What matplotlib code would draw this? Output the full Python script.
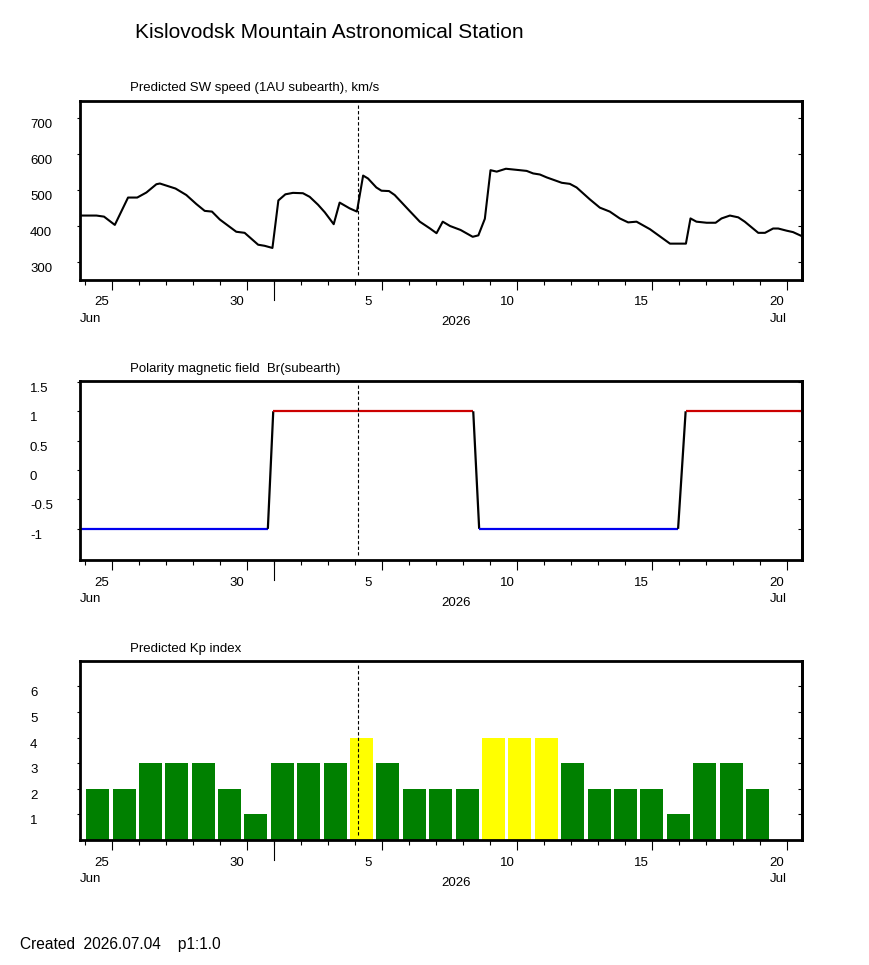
import numpy as np
import matplotlib.pyplot as plt
import matplotlib.transforms as mtransforms

plt.rcParams['font.family'] = ['Liberation Sans', 'DejaVu Sans']
plt.rcParams['axes.unicode_minus'] = False

# time axis: days since 2026-06-25 00:00
start = np.datetime64('2026-06-25')
x_lim = (-1.19, 25.55)
now_day = 9.12          # created 2026.07.04
month_day = 6           # Jul 1

# predicted solar wind speed, km/s
sw_days = [-1.19, -0.58, -0.3, 0.1, 0.59, 0.93, 1.27, 1.64, 1.77, 2.35, 2.75, 3.12,
           3.43, 3.7, 3.99, 4.6, 4.91, 5.41, 5.65, 5.94, 6.16, 6.42, 6.7, 7.07,
           7.32, 7.63, 7.88, 8.21, 8.43, 8.8, 9.07, 9.3, 9.48, 9.79, 9.98, 10.26,
           10.47, 11.02, 11.4, 11.78, 12.02, 12.25, 12.52, 12.91, 13.36, 13.57, 13.81, 14.02,
           14.25, 14.59, 15.11, 15.36, 15.6, 15.85, 16.1, 16.66, 16.96, 17.21, 17.7, 18.07,
           18.44, 18.81, 19.12, 19.43, 19.93, 20.67, 21.26, 21.43, 21.65, 22.03, 22.36, 22.58,
           22.89, 23.2, 23.44, 23.94, 24.19, 24.49, 24.68, 24.99, 25.23, 25.55]
sw_speed = [430, 430, 427, 404, 480, 480, 494, 517, 519, 505, 487, 462,
            443, 441, 419, 385, 382, 349, 346, 340, 472, 489, 493, 492,
            482, 460, 439, 406, 466, 450, 441, 541, 533, 508, 499, 498,
            487, 443, 413, 394, 381, 413, 401, 390, 371, 375, 421, 556,
            552, 560, 556, 554, 547, 544, 536, 521, 518, 508, 475, 452,
            441, 422, 411, 413, 392, 352, 352, 422, 413, 410, 410, 422,
            430, 425, 413, 382, 382, 394, 394, 388, 384, 373]

# polarity of Br (subearth)
br_days = [-1.19, 5.77, 5.97, 13.38, 13.6, 20.97, 21.25, 25.55]
br_sign = [-1, -1, 1, 1, -1, -1, 1, 1]

# daily Kp forecast, 2026-06-24 .. 2026-07-19
kp_values = [2, 2, 3, 3, 3, 2, 1, 3, 3, 3, 4, 3, 2, 2, 2, 4, 4, 4, 3, 2, 2, 2, 1, 3, 3, 2]

major_days = [0, 5, 10, 15, 20, 25]

W, H = 870, 965
fig = plt.figure(figsize=(W / 100, H / 100), dpi=100)
LEFT, RIGHT = 80, 801.7
AX_H = 179.3
FS = 9.5


def make_axes(top, title, title_y):
    ax = fig.add_axes([LEFT / W, 1 - (top + AX_H) / H, (RIGHT - LEFT) / W, AX_H / H])
    ax.set_xlim(*x_lim)
    for sp in ax.spines.values():
        sp.set_linewidth(2)
        sp.set_zorder(5)
    fig.text(130 / W, 1 - title_y / H, title, fontsize=FS, va='center', ha='left')

    # x axis: day ticks, longer every 5 days, longest at month start
    ax.set_xticks(major_days)
    ax.set_xticks(np.arange(-1, 26), minor=True)
    ax.tick_params(axis='x', which='major', length=7.2, width=0.8, direction='out', labelbottom=False)
    ax.tick_params(axis='x', which='minor', length=3.6, width=0.8, direction='out')
    blend = mtransforms.blended_transform_factory(ax.transData, ax.transAxes)
    ax.plot([month_day, month_day], [0, -20 / AX_H], transform=blend, clip_on=False,
            color='black', lw=0.8)
    shift = mtransforms.ScaledTranslation(-0.175, -0.165, fig.dpi_scale_trans)
    for d in major_days:
        day = (start + np.timedelta64(d, 'D')).astype(object).day
        ax.text(d, 0, str(day), transform=blend + shift, fontsize=FS, ha='left', va='top')
    low = mtransforms.ScaledTranslation(0, -0.33, fig.dpi_scale_trans)
    ax.text(0, 0, 'Jun', transform=ax.transAxes + low, fontsize=FS, ha='left', va='top')
    ax.text(major_days[-1], 0, 'Jul', transform=blend + shift + mtransforms.ScaledTranslation(0, -0.165, fig.dpi_scale_trans),
            fontsize=FS, ha='left', va='top')
    ax.text(0.5, 0, '2026', transform=ax.transAxes + mtransforms.ScaledTranslation(0, -0.365, fig.dpi_scale_trans),
            fontsize=FS, ha='left', va='top')

    ax.axvline(now_day, ymin=0.03, ymax=0.975, color='black', lw=0.8,
               ls=(0, (3, 2)), zorder=4)
    return ax


def y_ticks(ax, ticks, labels):
    ax.set_yticks(ticks)
    ax.tick_params(axis='y', which='both', left=True, right=False, labelleft=False,
                   length=2, width=0.8, direction='out')
    sec = ax.secondary_yaxis('right')
    sec.set_yticks(ticks)
    sec.tick_params(axis='y', direction='in', length=3, width=0.8, labelright=False)
    sec.spines['right'].set_linewidth(2)
    ylab = mtransforms.blended_transform_factory(fig.transFigure, ax.transData)
    for t, lab in zip(ticks, labels):
        ax.text(30 / W, t, lab, transform=ylab + mtransforms.ScaledTranslation(0, -0.01, fig.dpi_scale_trans),
                fontsize=FS, ha='left', va='top')


# title and footer
fig.text(135 / W, 1 - 32 / H, 'Kislovodsk Mountain Astronomical Station', fontsize=15,
         ha='left', va='center')
fig.text(20 / W, 1 - 944 / H, 'Created  2026.07.04    p1:1.0', fontsize=11.2,
         ha='left', va='center')

# solar wind speed
ax1 = make_axes(100.7, 'Predicted SW speed (1AU subearth), km/s', 88.3)
ax1.plot(sw_days, sw_speed, color='black', lw=1.5, zorder=3)
ax1.set_ylim(251, 749)
y_ticks(ax1, [300, 400, 500, 600, 700], ['300', '400', '500', '600', '700'])

# polarity
ax2 = make_axes(380.7, 'Polarity magnetic field  Br(subearth)', 369)
for i in range(len(br_days) - 1):
    a, b = br_sign[i], br_sign[i + 1]
    if a == b:
        col = '#CC0000' if a > 0 else '#0000EE'
    else:
        col = 'black'
    ax2.plot(br_days[i:i + 2], br_sign[i:i + 2], color=col, lw=1.6, zorder=3,
             solid_capstyle='butt')
ax2.set_ylim(-1.53, 1.52)
y_ticks(ax2, [-1, -0.5, 0, 0.5, 1, 1.5], ['-1', '-0.5', '0', '0.5', '1', '1.5'])

# Kp index
ax3 = make_axes(660.7, 'Predicted Kp index', 649)
kp_x = np.linspace(-0.537, 23.91, len(kp_values))
kp_colors = ['#FFFF00' if v == 4 else ('#FF0000' if v > 4 else '#008000') for v in kp_values]
ax3.bar(kp_x, kp_values, width=0.852, color=kp_colors, zorder=2)
ax3.set_ylim(0, 7)
y_ticks(ax3, [1, 2, 3, 4, 5, 6], ['1', '2', '3', '4', '5', '6'])

fig.savefig('out.png', dpi=100)
